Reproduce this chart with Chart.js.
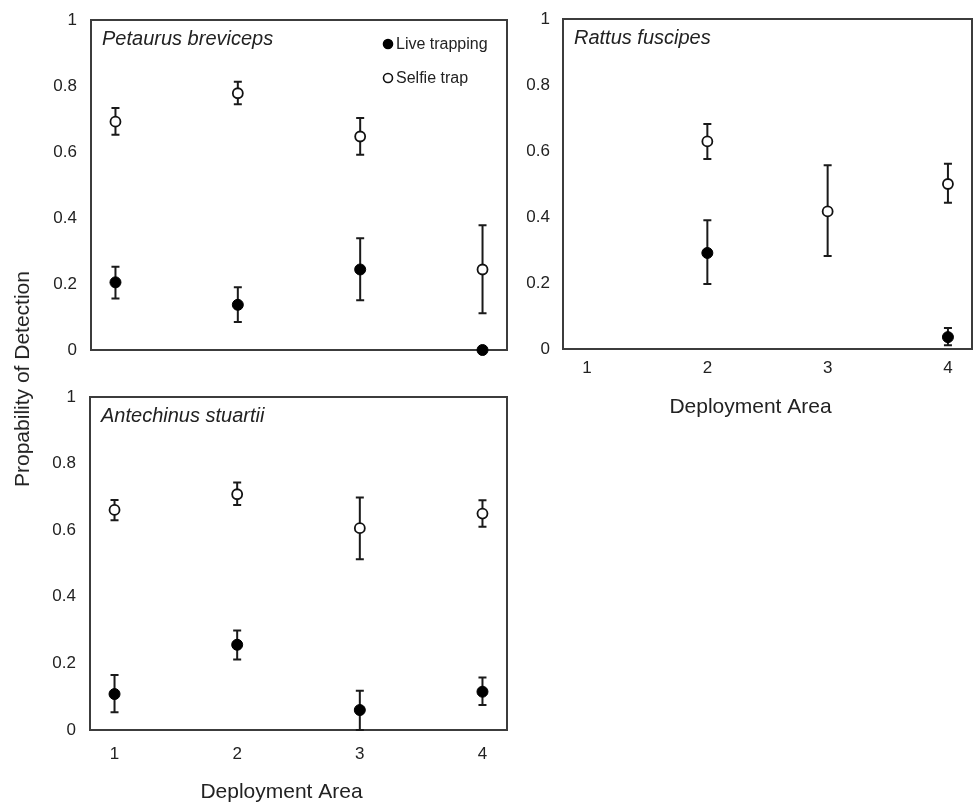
<!DOCTYPE html>
<html>
<head>
<meta charset="utf-8">
<title>Probability of detection</title>
<script src="https://cdn.jsdelivr.net/npm/chart.js@4.4.0/dist/chart.umd.min.js"></script>
<style>
    body { margin: 0; background: #fff; }
    #fig { position: relative; width: 974px; height: 803px; overflow: hidden; font-family: "Liberation Sans", Arial, sans-serif; }
    #fig canvas { position: absolute; }
    #ylabel {
        position: absolute; left: 22px; top: 379px;
        transform: translate(-50%, -50%) rotate(-90deg);
        white-space: nowrap; font-size: 21px; color: #222;
    }
</style>
</head>
<body>
<div id="fig">
    <canvas id="panel1" width="520" height="372" style="left:0;top:0"></canvas>
    <canvas id="panel2" width="454" height="418" style="left:520px;top:0"></canvas>
    <canvas id="panel3" width="520" height="420" style="left:0;top:383px"></canvas>
    <div id="ylabel"></div>
</div>
<script>
// Datos
const areas = [1, 2, 3, 4];
const legendLabels = ['Live trapping', 'Selfie trap'];
const axisTitleX = 'Deployment Area';
const axisTitleY = 'Propability of Detection';

// Petaurus breviceps
const petLive = [0.205, 0.137, 0.244, 0];
const petLiveLow = [0.156, 0.085, 0.151, null];
const petLiveHigh = [0.252, 0.190, 0.339, null];
const petSelfie = [0.692, 0.778, 0.647, 0.244];
const petSelfieLow = [0.652, 0.745, 0.592, 0.111];
const petSelfieHigh = [0.733, 0.813, 0.703, 0.378];

// Rattus fuscipes
const ratLive = [null, 0.291, null, 0.036];
const ratLiveLow = [null, 0.197, null, 0.011];
const ratLiveHigh = [null, 0.390, null, 0.064];
const ratSelfie = [null, 0.629, 0.417, 0.500];
const ratSelfieLow = [null, 0.576, 0.282, 0.443];
const ratSelfieHigh = [null, 0.682, 0.557, 0.561];

// Antechinus stuartii
const antLive = [0.108, 0.256, 0.060, 0.115];
const antLiveLow = [0.053, 0.212, 0.000, 0.075];
const antLiveHigh = [0.165, 0.299, 0.118, 0.158];
const antSelfie = [0.661, 0.708, 0.606, 0.650];
const antSelfieLow = [0.630, 0.676, 0.513, 0.610];
const antSelfieHigh = [0.691, 0.743, 0.698, 0.690];

const FONT = '"Liberation Sans", Arial, sans-serif';
const TEXTO = '#222';

Chart.defaults.font.family = FONT;
Chart.defaults.color = TEXTO;

document.getElementById('ylabel').textContent = axisTitleY;

function puntos(medias) {
    return areas.map((a, i) => ({ x: a, y: medias[i] })).filter(p => p.y !== null);
}

function barras(bajos, altos) {
    return areas.map((a, i) => ({ x: a, low: bajos[i], high: altos[i] }))
        .filter(e => e.low !== null && e.high !== null);
}

// Marco del panel, título en cursiva, título del eje X y leyenda
const marcoPlugin = {
    id: 'marco',
    beforeDatasetsDraw(chart, args, opts) {
        const { ctx, chartArea: a } = chart;
        ctx.save();
        ctx.strokeStyle = '#3c3c3c';
        ctx.lineWidth = 2;
        ctx.strokeRect(a.left, a.top, a.right - a.left, a.bottom - a.top);
        ctx.font = 'italic 20px ' + FONT;
        ctx.fillStyle = TEXTO;
        ctx.textBaseline = 'middle';
        ctx.fillText(opts.titulo, a.left + 11, a.top + 19);
        if (opts.tituloX) {
            // el título del eje va algo a la izquierda del centro, como en el original
            ctx.font = '21px ' + FONT;
            ctx.textAlign = 'center';
            ctx.fillText(opts.tituloX, (a.left + a.right) / 2 - 17, chart.height - 11);
        }
        ctx.restore();
    },
    afterDatasetsDraw(chart, args, opts) {
        if (!opts.leyenda) return;
        const { ctx, chartArea: a } = chart;
        ctx.save();
        ctx.font = '16px ' + FONT;
        ctx.textBaseline = 'middle';
        chart.data.datasets.forEach((ds, i) => {
            const x = a.right - 119;
            const y = a.top + 24 + i * 34;
            ctx.beginPath();
            ctx.arc(x, y, 4.5, 0, Math.PI * 2);
            ctx.fillStyle = ds.backgroundColor;
            ctx.fill();
            ctx.lineWidth = 1.6;
            ctx.strokeStyle = ds.borderColor;
            ctx.stroke();
            ctx.fillStyle = TEXTO;
            ctx.fillText(ds.label, x + 8, y + 1);
        });
        ctx.restore();
    }
};

// Barras de error verticales con remate
const errorBarPlugin = {
    id: 'errorBars',
    beforeDatasetsDraw(chart) {
        const { ctx, scales: { x, y } } = chart;
        ctx.save();
        ctx.strokeStyle = '#1a1a1a';
        ctx.lineWidth = 2;
        chart.data.datasets.forEach(ds => {
            (ds.errorBars || []).forEach(e => {
                const px = x.getPixelForValue(e.x);
                const yl = y.getPixelForValue(e.low);
                const yh = y.getPixelForValue(e.high);
                ctx.beginPath();
                ctx.moveTo(px, yl); ctx.lineTo(px, yh);
                ctx.moveTo(px - 4, yl); ctx.lineTo(px + 4, yl);
                ctx.moveTo(px - 4, yh); ctx.lineTo(px + 4, yh);
                ctx.stroke();
            });
        });
        ctx.restore();
    }
};

function crearPanel(id, titulo, live, liveLow, liveHigh, selfie, selfieLow, selfieHigh, cfg) {
    const ctx = document.getElementById(id);
    return new Chart(ctx, {
        type: 'scatter',
        data: {
            datasets: [{
                label: legendLabels[0],
                data: puntos(live),
                errorBars: barras(liveLow, liveHigh),
                backgroundColor: '#000',
                borderColor: '#000',
                borderWidth: 1,
                pointRadius: 5.5,
                clip: false
            }, {
                label: legendLabels[1],
                data: puntos(selfie),
                errorBars: barras(selfieLow, selfieHigh),
                backgroundColor: '#fff',
                borderColor: '#111',
                borderWidth: 1.8,
                pointRadius: 5,
                clip: false
            }]
        },
        options: {
            responsive: false,
            animation: false,
            events: [],
            layout: {
                autoPadding: false,
                padding: { top: cfg.top, right: cfg.right, left: 0, bottom: 0 }
            },
            plugins: {
                legend: { display: false },
                tooltip: { enabled: false },
                marco: { titulo: titulo, leyenda: cfg.leyenda, tituloX: cfg.ejeX ? axisTitleX : null }
            },
            scales: {
                x: {
                    type: 'linear',
                    min: 0.8,
                    max: 4.2,
                    afterBuildTicks: s => { s.ticks = areas.map(v => ({ value: v })); },
                    ticks: { display: cfg.ejeX, padding: 0, font: { size: 17 }, color: TEXTO },
                    // marcas invisibles: sólo separan las etiquetas del marco
                    grid: { display: false, drawTicks: true, tickLength: cfg.padX },
                    border: { display: false },
                    afterFit: s => { s.height = cfg.altoX; }
                },
                y: {
                    min: 0,
                    max: 1,
                    ticks: {
                        stepSize: 0.2,
                        padding: 0,
                        font: { size: 17 },
                        color: TEXTO,
                        callback: v => String(Math.round(v * 10) / 10)
                    },
                    grid: { display: false, drawTicks: true, tickLength: cfg.padY },
                    border: { display: false },
                    afterFit: s => { s.width = cfg.anchoY; }
                }
            }
        },
        plugins: [marcoPlugin, errorBarPlugin]
    });
}

crearPanel('panel1', 'Petaurus breviceps',
    petLive, petLiveLow, petLiveHigh, petSelfie, petSelfieLow, petSelfieHigh,
    { top: 20, right: 13, anchoY: 91, altoX: 22, padX: 0, padY: 14, ejeX: false, leyenda: true });

crearPanel('panel2', 'Rattus fuscipes',
    ratLive, ratLiveLow, ratLiveHigh, ratSelfie, ratSelfieLow, ratSelfieHigh,
    { top: 19, right: 2, anchoY: 43, altoX: 69, padX: 9, padY: 13, ejeX: true, leyenda: false });

crearPanel('panel3', 'Antechinus stuartii',
    antLive, antLiveLow, antLiveHigh, antSelfie, antSelfieLow, antSelfieHigh,
    { top: 14, right: 13, anchoY: 90, altoX: 73, padX: 14, padY: 14, ejeX: true, leyenda: false });
</script>
</body>
</html>
